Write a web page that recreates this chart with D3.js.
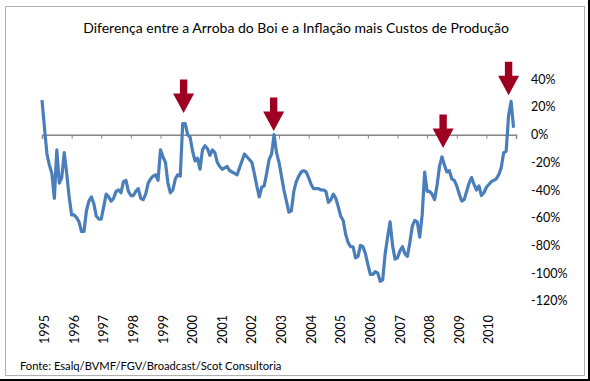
<!DOCTYPE html>
<html>
<head>
<meta charset="utf-8">
<script src="https://cdn.jsdelivr.net/npm/d3@7"></script>
<style>
  body { margin: 0; background: #fff; }
  svg { display: block; }
  text { font-family: Lato, "Open Sans", sans-serif; fill: #000; }
</style>
</head>
<body>
<div id="chart"></div>
<script>
// monthly values (%), Jan 1995 .. Dec 2010
const startYear = 1995;
const values = [
  25, 5, -14, -22, -28, -46, -11, -35, -31, -13, -28, -45,
  -58, -58, -60, -63, -70, -70, -55, -48, -45, -50, -59, -61,
  -61, -52, -43, -45, -48, -46, -41, -40, -42, -34, -33, -41,
  -44, -44, -41, -39, -46, -47, -43, -35, -32, -30, -29, -33,
  -11, -16, -20, -35, -42, -40, -32, -29, -30, 8, 8, 0,
  -2, -12, -19, -17, -25, -11, -8, -10, -15, -11, -13, -20,
  -23, -25, -24, -23, -26, -27, -28, -29, -24, -19, -14, -16,
  -18, -20, -28, -37, -45, -38, -37, -28, -18, -14, 0, -13,
  -20, -30, -40, -48, -56, -55, -41, -34, -30, -27, -26, -27,
  -31, -36, -39, -39, -39, -40, -40, -41, -49, -47, -43, -46,
  -52, -59, -62, -72, -78, -81, -81, -89, -88, -80, -81, -86,
  -94, -101, -101, -99, -100, -106, -105, -86, -74, -63, -80, -90,
  -89, -84, -81, -86, -88, -78, -66, -62, -63, -74, -58, -27,
  -41, -41, -43, -47, -37, -23, -16, -22, -27, -26, -32, -33,
  -37, -43, -48, -47, -41, -35, -31, -36, -40, -37, -44, -42,
  -38, -36, -34, -33, -32, -29, -24, -13, -12, 14, 24, 5
];
const yearLabels = d3.range(1995, 2011).map(String);
const yTicks = [40, 20, 0, -20, -40, -60, -80, -100, -120];
// arrow tips: [decimal year, value %]
const arrowYears = [1999.78, 2002.82, 2008.54, 2010.75];
const arrowTips = [15.6, 2.6, -9.7, 28.5];

const title = "Diferença entre a Arroba do Boi e a Inflação mais Custos de Produção";
const source = "Fonte: Esalq/BVMF/FGV/Broadcast/Scot Consultoria";

const W = 590, H = 381;
const svg = d3.select("#chart").append("svg")
  .attr("width", W).attr("height", H);

// frame
svg.append("rect")
  .attr("x", 5.5).attr("y", 6.5).attr("width", 579).attr("height", 369)
  .attr("fill", "#fff").attr("stroke", "#b0b0b0").attr("stroke-width", 1);
svg.append("line").attr("x1", 0).attr("x2", W).attr("y1", 380).attr("y2", 380)
  .attr("stroke", "#000").attr("stroke-width", 2);
svg.append("line").attr("x1", 589).attr("x2", 589).attr("y1", 0).attr("y2", H)
  .attr("stroke", "#000").attr("stroke-width", 2);

const x = d3.scaleLinear().domain([1995, 2011]).range([42, 516]);
const y = d3.scaleLinear().domain([-120, 40]).range([300.7, 79.3]);

// title
svg.append("text")
  .attr("x", 296).attr("y", 33)
  .attr("text-anchor", "middle")
  .style("font-size", "14px")
  .text(title);

// y axis labels on the right
svg.append("g")
  .selectAll("text")
  .data(yTicks)
  .enter()
  .append("text")
  .attr("x", 531)
  .attr("y", d => y(d))
  .attr("dominant-baseline", "central")
  .style("font-size", "12.5px")
  .text(d => d + "%");

// zero axis with year ticks
const xAxis = d3.axisBottom(x)
  .tickValues(d3.range(1995, 2012))
  .tickSize(4)
  .tickFormat("");
const gx = svg.append("g")
  .attr("transform", "translate(0," + y(0) + ")")
  .call(xAxis);
gx.select(".domain").attr("stroke", "#868686").attr("stroke-width", 1.5);
gx.selectAll(".tick line").attr("stroke", "#868686").attr("stroke-width", 1);

// year labels at the bottom, rotated
svg.append("g")
  .selectAll("text")
  .data(yearLabels)
  .enter()
  .append("text")
  .attr("transform", d => "translate(" + (x(+d) + 2.5) + ",315) rotate(-90)")
  .attr("text-anchor", "end")
  .attr("dominant-baseline", "central")
  .style("font-size", "12.5px")
  .text(d => d);

// line
const line = d3.line()
  .x((d, i) => x(startYear + i / 12))
  .y(d => y(d));
svg.append("path")
  .datum(values)
  .attr("d", line)
  .attr("fill", "none")
  .attr("stroke", "#4a7ebb")
  .attr("stroke-width", 3.2)
  .attr("stroke-linejoin", "round");

// arrows
const arrowPath = "M-3.7,-33.5 L3.7,-33.5 L3.7,-19.5 L10.5,-19.5 L0,0 L-10.5,-19.5 L-3.7,-19.5 Z";
svg.append("g")
  .selectAll("path")
  .data(arrowYears)
  .enter()
  .append("path")
  .attr("d", arrowPath)
  .attr("transform", (d, i) => "translate(" + x(d) + "," + y(arrowTips[i]) + ")")
  .attr("fill", "#9e0021");

// source
svg.append("text")
  .attr("x", 20).attr("y", 370)
  .style("font-size", "11.2px")
  .text(source);
</script>
</body>
</html>
